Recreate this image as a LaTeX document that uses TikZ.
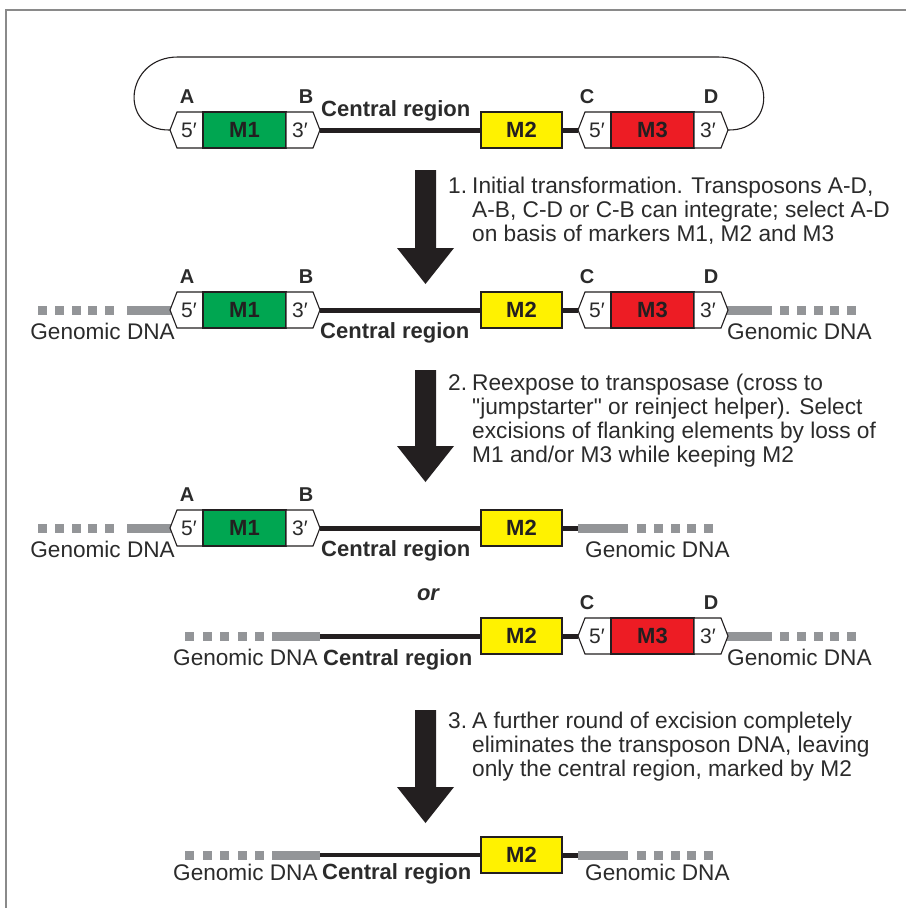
\documentclass[tikz,border=0pt]{standalone}
\usepackage{fontspec}
\setmainfont{Liberation Sans}
\newfontfamily\nomapfont{Liberation Sans}
\definecolor{mgreen}{HTML}{00A651}
\definecolor{mred}{HTML}{ED1C24}
\definecolor{myellow}{HTML}{FFF200}
\definecolor{gdnacol}{HTML}{939598}
\definecolor{inkcol}{HTML}{231F20}
\definecolor{txtcol}{HTML}{2B2B2B}
\definecolor{framecol}{HTML}{8A8A8A}
\tikzset{
  elbox/.style={draw=inkcol, line width=1.1pt, line join=miter},
  mkbox/.style={elbox, minimum width=81pt, minimum height=36pt, inner sep=0pt, outer sep=0pt,
     font=\fontsize{22}{22}\selectfont\bfseries, text=inkcol},
  endtxt/.style={font=\fontsize{21}{21}\selectfont, text=txtcol, inner sep=0pt},
  lbl/.style={font=\fontsize{20}{20}\selectfont\bfseries, text=txtcol, inner sep=0pt, anchor=base},
  gtxt/.style={font=\fontsize{22.6}{22.6}\selectfont, text=txtcol, inner sep=0pt},
  ctxt/.style={font=\fontsize{22}{22}\selectfont\bfseries, text=txtcol, inner sep=0pt, anchor=base west},
  txt/.style={font=\fontsize{22.7}{22.7}\selectfont, text=txtcol, inner sep=0pt, anchor=base west},
  dnaline/.style={draw=inkcol, line width=5pt},
  dnathin/.style={draw=inkcol, line width=3.5pt},
  gdna/.style={fill=gdnacol},
  loopline/.style={draw=inkcol, line width=1.1pt},
  bigarrow/.style={fill=inkcol},
  framel/.style={draw=framecol, line width=2pt}
}
% transposon element: #1 name, #2 x of left tip, #3 y centre, #4 marker, #5 colour
\newcommand{\tnelem}[5]{%
  \begin{scope}[shift={(#2,#3)}]
    \coordinate (#1L) at (0,0);
    \coordinate (#1R) at (150,0);
    \draw[elbox, fill=white] (0,0) -- (7,-18) -- (33,-18) -- (33,18) -- (7,18) -- cycle;
    \node[mkbox, minimum width=83pt, fill=#5, anchor=west] (#1m) at (33,0) {#4};
    \draw[elbox, fill=white] (116,-18) -- (143,-18) -- (150,0) -- (143,18) -- (116,18) -- cycle;
    \node[endtxt] (#1five) at (19,0) {5\char"2032};
    \node[endtxt] (#1three) at (130,0) {3\char"2032};
  \end{scope}}
% five grey squares: #1 x start, #2 y, #3 pitch
\newcommand{\gsquares}[3]{%
  \foreach \i in {0,...,4} \fill[gdna] ({#1+\i*#3},{#2-4.5}) rectangle ++(9,9);}
% big arrow: #1 top, #2 tip
\newcommand{\bigdown}[2]{%
  \fill[bigarrow] (415,#1) -- (436,#1) -- ({436},{#2-36}) -- (454,{#2-36}) -- (425.5,#2)
     -- (397,{#2-36}) -- (415,{#2-36}) -- cycle;}
\begin{document}
\begin{tikzpicture}[x=1pt,y=-1pt]
\useasboundingbox (0,0) rectangle (906,908);
\fill[white] (0,0) rectangle (906,908);
\draw[framel] (6,908) -- (6,10) -- (906,10);

%%%%% Row 1 : plasmid
\tnelem{a}{170}{130}{M1}{mgreen}
\tnelem{c}{578}{130}{M3}{mred}
\node[mkbox, fill=myellow] (m2a) at (521.5,130) {M2};
\draw[dnaline] (aR) -- (m2a.west);
\draw[dnaline] (m2a.east) -- (cL);
\draw[loopline] (aL) .. controls (118,131) and (124,57) .. (178,57) -- (718,57)
   .. controls (774,57) and (780,131) .. (cR);
\node[lbl] (la1) at (187,103) {A};
\node[lbl] (lb1) at (306,103) {B};
\node[lbl] (lc1) at (587,103) {C};
\node[lbl] (ld1) at (711,103) {D};
\node[ctxt] (cr1) at (321,116) {Central region};

%%%%% Arrow 1 + text
\bigdown{170}{284}
\node[txt] (t1n) at (448,193) {1.};
\node[txt] (t1a) at (472,193) {Initial transformation. Transposons A-D,};
\node[txt] (t1b) at (472,217) {A-B, C-D or C-B can integrate; select A-D};
\node[txt] (t1c) at (472,241) {on basis of markers M1, M2 and M3};

%%%%% Row 2
\gsquares{38}{310}{16.8}
\fill[gdna] (127,305.5) rectangle (172,314.5);
\fill[gdna] (726,305.5) rectangle (772,314.5);
\gsquares{780}{310}{16.8}
\tnelem{b}{170}{310}{M1}{mgreen}
\tnelem{d}{578}{310}{M3}{mred}
\node[mkbox, fill=myellow] (m2b) at (521.5,310) {M2};
\draw[dnaline] (bR) -- (m2b.west);
\draw[dnaline] (m2b.east) -- (dL);
\node[lbl] (la2) at (187,283) {A};
\node[lbl] (lb2) at (306,283) {B};
\node[lbl] (lc2) at (587,283) {C};
\node[lbl] (ld2) at (711,283) {D};
\node[gtxt, anchor=base east] (g2l) at (175,339) {Genomic DNA};
\node[ctxt] (cr2) at (320,338) {Central region};
\node[gtxt, anchor=base west] (g2r) at (727,339) {Genomic DNA};

%%%%% Arrow 2 + text
\bigdown{370}{482}
\node[txt] (t2n) at (448,390) {2.};
\node[txt] (t2a) at (472,390) {Reexpose to transposase (cross to};
\node[txt] (t2b) at (472,414) {{\nomapfont"}jumpstarter{\nomapfont"} or reinject helper). Select};
\node[txt] (t2c) at (472,438) {excisions of flanking elements by loss of};
\node[txt] (t2d) at (472,462) {M1 and/or M3 while keeping M2};

%%%%% Row 3
\gsquares{38}{528}{16.8}
\fill[gdna] (127,523.5) rectangle (172,532.5);
\coordinate (r3g) at (578,528);
\fill[gdna] (578,523.5) rectangle (628,532.5);
\gsquares{637}{528}{16.8}
\tnelem{e}{170}{528}{M1}{mgreen}
\node[mkbox, fill=myellow] (m2c) at (521.5,528) {M2};
\draw[dnaline] (eR) -- (m2c.west);
\draw[dnaline] (m2c.east) -- (r3g);
\node[lbl] (la3) at (187,501) {A};
\node[lbl] (lb3) at (306,501) {B};
\node[gtxt, anchor=base east] (g3l) at (175,557) {Genomic DNA};
\node[ctxt] (cr3) at (321,556) {Central region};
\node[gtxt, anchor=base west] (g3r) at (585,557) {Genomic DNA};

\node[font=\fontsize{22}{22}\selectfont\bfseries\itshape, text=txtcol, inner sep=0pt, anchor=base] (orl) at (428,600) {or};

%%%%% Row 4
\gsquares{185}{636}{17.5}
\fill[gdna] (272,631.5) rectangle (320,640.5);
\coordinate (r4g) at (320,636);
\fill[gdna] (726,631.5) rectangle (772,640.5);
\gsquares{780}{636}{16.8}
\tnelem{f}{578}{636}{M3}{mred}
\node[mkbox, fill=myellow] (m2d) at (521.5,636) {M2};
\draw[dnaline] (r4g) -- (m2d.west);
\draw[dnaline] (m2d.east) -- (fL);
\node[lbl] (lc4) at (587,609) {C};
\node[lbl] (ld4) at (711,609) {D};
\node[gtxt, anchor=base west] (g4l) at (173,665) {Genomic DNA};
\node[ctxt] (cr4) at (323,665) {Central region};
\node[gtxt, anchor=base west] (g4r) at (727,665) {Genomic DNA};

%%%%% Arrow 3 + text
\bigdown{710}{823}
\node[txt] (t3n) at (448,728) {3.};
\node[txt] (t3a) at (472,728) {A further round of excision completely};
\node[txt] (t3b) at (472,752) {eliminates the transposon DNA, leaving};
\node[txt] (t3c) at (472,776) {only the central region, marked by M2};

%%%%% Row 5
\gsquares{185}{855}{17.5}
\fill[gdna] (272,850.5) rectangle (320,859.5);
\coordinate (r5l) at (320,855);
\coordinate (r5r) at (578,855);
\fill[gdna] (578,850.5) rectangle (628,859.5);
\gsquares{637}{855}{16.8}
\node[mkbox, fill=myellow] (m2e) at (521.5,855) {M2};
\draw[dnathin] (r5l) -- (m2e.west);
\draw[dnaline] (m2e.east) -- (r5r);
\node[gtxt, anchor=base west] (g5l) at (173,880) {Genomic DNA};
\node[ctxt] (cr5) at (322,879) {Central region};
\node[gtxt, anchor=base west] (g5r) at (585,880) {Genomic DNA};
\end{tikzpicture}
\end{document}
